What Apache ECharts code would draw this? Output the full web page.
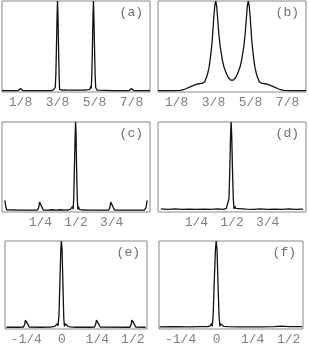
<!DOCTYPE html>
<html><head><meta charset="utf-8">
<script src="https://cdn.jsdelivr.net/npm/echarts@6/dist/echarts.min.js"></script>
<style>html,body{margin:0;padding:0;background:#fff}#c{width:309px;height:346px}</style>
</head><body><div id="c"></div>
<script>
// ---- data (x = frequency, y = normalized amplitude) ----
const panelNames = ['(a)', '(b)', '(c)', '(d)', '(e)', '(f)'];

const ticksAB = [0.125, 0.375, 0.625, 0.875];
const tickLabelsAB = ['1/8', '3/8', '5/8', '7/8'];
const ticksCD = [0.25, 0.5, 0.75];
const tickLabelsCD = ['1/4', '1/2', '3/4'];
const ticksEF = [-0.25, 0, 0.25, 0.5];
const tickLabelsEF = ['-1/4', '0', '1/4', '1/2'];

const xA = [0, 0.08, 0.11, 0.118, 0.125, 0.132, 0.14, 0.25, 0.33, 0.345, 0.352, 0.356, 0.36, 0.364, 0.368, 0.372, 0.375, 0.378, 0.382, 0.386, 0.389, 0.392, 0.396, 0.40, 0.405, 0.41, 0.42, 0.43, 0.44, 0.45, 0.46, 0.47, 0.48, 0.49, 0.50, 0.51, 0.52, 0.53, 0.54, 0.55, 0.56, 0.57, 0.58, 0.588, 0.594, 0.60, 0.603, 0.607, 0.611, 0.615, 0.618, 0.621, 0.625, 0.629, 0.633, 0.637, 0.642, 0.646, 0.652, 0.75, 0.86, 0.868, 0.875, 0.882, 0.89, 0.95, 1.0];
const yA = [0.015, 0.015, 0.016, 0.028, 0.038, 0.028, 0.016, 0.015, 0.016, 0.02, 0.03, 0.022, 0.05, 0.2, 0.5, 0.82, 1.0, 0.85, 0.5, 0.18, 0.03, 0.05, 0.02, 0.035, 0.02, 0.03, 0.022, 0.03, 0.02, 0.028, 0.02, 0.027, 0.02, 0.026, 0.02, 0.026, 0.02, 0.027, 0.02, 0.028, 0.022, 0.03, 0.025, 0.045, 0.03, 0.065, 0.04, 0.18, 0.5, 0.85, 1.0, 0.82, 0.5, 0.2, 0.05, 0.035, 0.02, 0.03, 0.016, 0.015, 0.016, 0.028, 0.038, 0.028, 0.016, 0.015, 0.015];

const xB = [0, 0.10, 0.15, 0.18, 0.21, 0.24, 0.27, 0.30, 0.315, 0.325, 0.335, 0.345, 0.352, 0.36, 0.367, 0.372, 0.378, 0.384, 0.39, 0.396, 0.402, 0.41, 0.418, 0.425, 0.435, 0.445, 0.46, 0.475, 0.49, 0.50, 0.51, 0.525, 0.54, 0.555, 0.565, 0.575, 0.582, 0.59, 0.598, 0.604, 0.61, 0.616, 0.622, 0.628, 0.633, 0.64, 0.648, 0.655, 0.665, 0.675, 0.685, 0.70, 0.73, 0.76, 0.79, 0.82, 0.85, 0.90, 1.0];
const yB = [0.015, 0.015, 0.018, 0.03, 0.05, 0.072, 0.088, 0.098, 0.11, 0.15, 0.2, 0.27, 0.35, 0.46, 0.58, 0.7, 0.84, 0.95, 1.0, 0.95, 0.83, 0.66, 0.53, 0.45, 0.35, 0.28, 0.21, 0.16, 0.13, 0.12, 0.13, 0.16, 0.21, 0.28, 0.35, 0.45, 0.53, 0.66, 0.83, 0.95, 1.0, 0.95, 0.84, 0.7, 0.58, 0.46, 0.35, 0.27, 0.2, 0.15, 0.11, 0.098, 0.088, 0.072, 0.05, 0.03, 0.018, 0.015, 0.015];

const xC = [0, 0.004, 0.008, 0.013, 0.02, 0.1, 0.2, 0.23, 0.238, 0.244, 0.25, 0.256, 0.262, 0.27, 0.3, 0.33, 0.36, 0.39, 0.42, 0.44, 0.46, 0.47, 0.475, 0.48, 0.484, 0.489, 0.494, 0.497, 0.50, 0.504, 0.509, 0.513, 0.518, 0.523, 0.528, 0.535, 0.55, 0.6, 0.7, 0.73, 0.738, 0.744, 0.75, 0.756, 0.762, 0.77, 0.9, 0.98, 0.987, 0.992, 0.996, 1.0];
const yC = [0.13, 0.09, 0.05, 0.025, 0.02, 0.02, 0.02, 0.022, 0.05, 0.11, 0.13, 0.11, 0.05, 0.022, 0.02, 0.025, 0.02, 0.025, 0.02, 0.022, 0.03, 0.04, 0.06, 0.03, 0.15, 0.5, 0.85, 1.0, 0.9, 0.5, 0.15, 0.03, 0.06, 0.03, 0.04, 0.025, 0.022, 0.02, 0.02, 0.022, 0.05, 0.11, 0.13, 0.11, 0.05, 0.022, 0.02, 0.02, 0.025, 0.05, 0.09, 0.13];

const xD = [0, 0.05, 0.1, 0.15, 0.2, 0.25, 0.3, 0.35, 0.4, 0.44, 0.46, 0.468, 0.474, 0.479, 0.485, 0.49, 0.494, 0.498, 0.503, 0.509, 0.514, 0.52, 0.527, 0.535, 0.6, 0.65, 0.7, 0.75, 0.8, 0.85, 0.9, 0.95, 1.0];
const yD = [0.035, 0.03, 0.034, 0.03, 0.033, 0.03, 0.033, 0.03, 0.034, 0.03, 0.04, 0.06, 0.035, 0.15, 0.5, 0.85, 1.0, 0.85, 0.5, 0.15, 0.035, 0.065, 0.04, 0.03, 0.033, 0.03, 0.034, 0.03, 0.033, 0.03, 0.034, 0.03, 0.033];

const xE = [-0.39, -0.3, -0.27, -0.262, -0.256, -0.25, -0.244, -0.238, -0.23, -0.15, -0.08, -0.05, -0.04, -0.032, -0.027, -0.02, -0.013, -0.007, -0.003, 0.002, 0.008, 0.014, 0.019, 0.025, 0.03, 0.035, 0.045, 0.06, 0.1, 0.2, 0.23, 0.238, 0.244, 0.25, 0.256, 0.262, 0.27, 0.48, 0.488, 0.494, 0.5, 0.506, 0.512, 0.52, 0.59];
const yE = [0.02, 0.02, 0.022, 0.05, 0.1, 0.12, 0.1, 0.05, 0.022, 0.02, 0.022, 0.03, 0.035, 0.06, 0.035, 0.15, 0.55, 0.9, 1.0, 0.9, 0.5, 0.12, 0.03, 0.06, 0.04, 0.04, 0.028, 0.025, 0.02, 0.02, 0.022, 0.05, 0.1, 0.12, 0.1, 0.05, 0.022, 0.02, 0.05, 0.1, 0.12, 0.1, 0.05, 0.022, 0.02];

const xF = [-0.395, -0.3, -0.2, -0.1, -0.06, -0.045, -0.035, -0.03, -0.024, -0.016, -0.008, -0.003, 0.003, 0.01, 0.017, 0.023, 0.028, 0.034, 0.04, 0.048, 0.06, 0.08, 0.15, 0.3, 0.4, 0.45, 0.5, 0.594];
const yF = [0.025, 0.027, 0.025, 0.027, 0.027, 0.035, 0.06, 0.03, 0.15, 0.55, 0.9, 1.0, 0.9, 0.5, 0.15, 0.03, 0.06, 0.04, 0.045, 0.03, 0.032, 0.027, 0.025, 0.025, 0.028, 0.032, 0.028, 0.026];

// ---- layout ----
const grids = [
  {left: 2, top: 1, width: 148, height: 91},
  {left: 158, top: 1, width: 148, height: 91},
  {left: 2, top: 122, width: 148, height: 90},
  {left: 158, top: 122, width: 148, height: 90},
  {left: 5, top: 241, width: 142, height: 89},
  {left: 159, top: 241, width: 144, height: 89}
];
const xRanges = [[0, 1], [0, 1], [-0.02, 1.02], [-0.02, 1.02], [-0.4, 0.6], [-0.4, 0.6]];
const tickSets = [[ticksAB, tickLabelsAB], [ticksAB, tickLabelsAB], [ticksCD, tickLabelsCD], [ticksCD, tickLabelsCD], [ticksEF, tickLabelsEF], [ticksEF, tickLabelsEF]];
const xs = [xA, xB, xC, xD, xE, xF];
const ys = [yA, yB, yC, yD, yE, yF];

const FONT = '"Liberation Mono", "DejaVu Sans Mono", monospace';
const option = {
  animation: false,
  backgroundColor: '#fff',
  grid: grids.map(g => Object.assign({show: true, borderColor: '#888', borderWidth: 1, backgroundColor: 'transparent'}, g)),
  xAxis: grids.map((g, i) => ({
    type: 'value', gridIndex: i, min: xRanges[i][0], max: xRanges[i][1],
    axisLine: {show: false}, axisTick: {show: false}, splitLine: {show: false},
    axisLabel: {
      customValues: tickSets[i][0], margin: 4,
      color: '#808080', fontFamily: FONT, fontSize: 13,
      formatter: v => {
        const k = tickSets[i][0].findIndex(t => Math.abs(t - v) < 1e-6);
        return k >= 0 ? tickSets[i][1][k] : '';
      }
    }
  })),
  yAxis: grids.map((g, i) => ({type: 'value', gridIndex: i, min: 0, max: 1, show: false})),
  title: grids.map((g, i) => ({
    text: panelNames[i], right: 309 - (g.left + g.width - 7), top: g.top + 5,
    padding: 0,
    textStyle: {fontFamily: FONT, fontSize: 13, fontWeight: 'normal', color: '#707070'}
  })),
  series: grids.map((g, i) => ({
    type: 'line', xAxisIndex: i, yAxisIndex: i, symbol: 'none',
    lineStyle: {color: '#111', width: 1.3}, clip: false,
    data: xs[i].map((x, k) => [x, ys[i][k]])
  }))
};
const chart = echarts.init(document.getElementById('c'), null, {renderer: 'canvas'});
chart.setOption(option);
</script></body></html>
